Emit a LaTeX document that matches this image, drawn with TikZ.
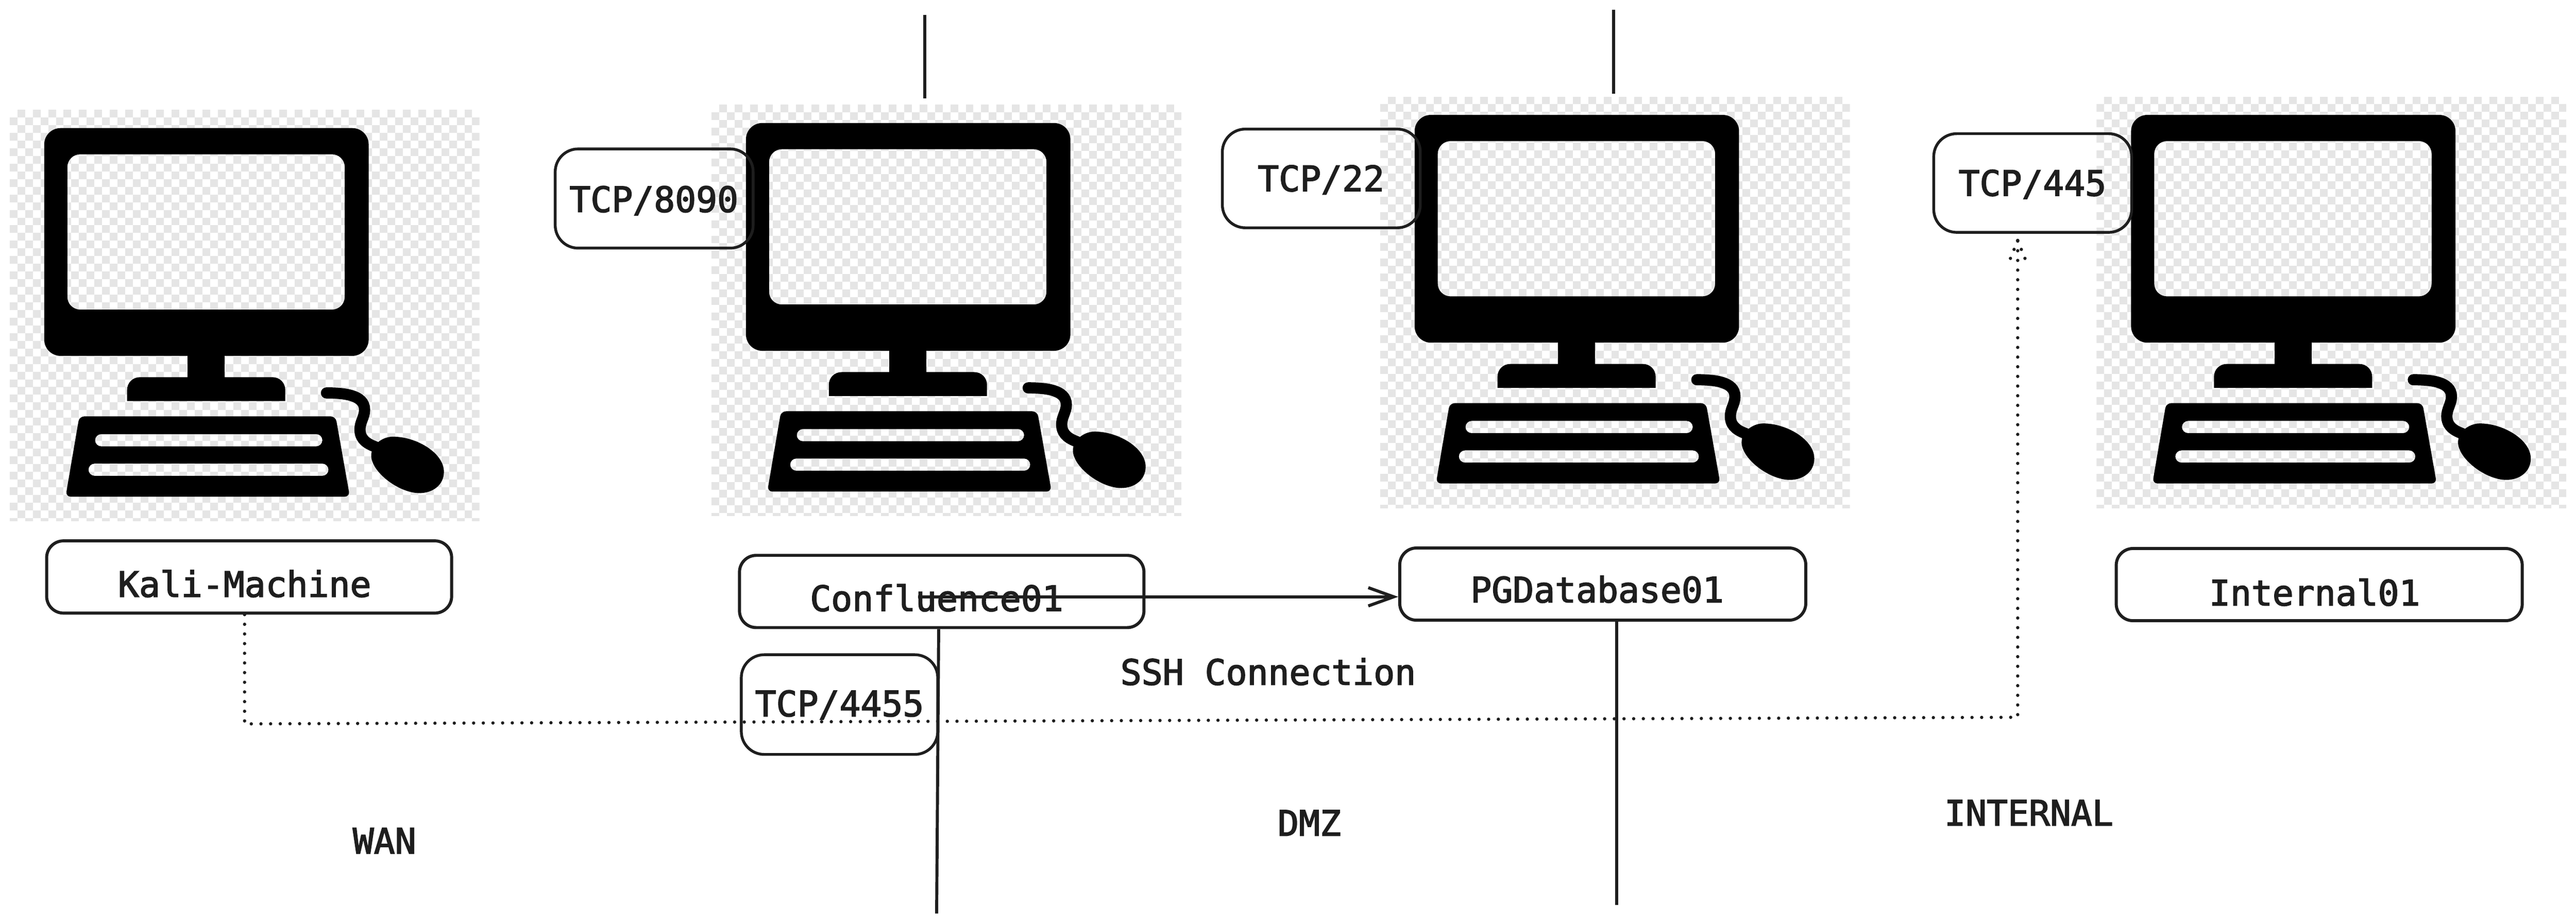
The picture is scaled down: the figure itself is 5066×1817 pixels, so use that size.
\documentclass[tikz,border=0pt]{standalone}
\usepackage{fontspec}
\newfontfamily\codefont[FakeBold=2.5]{DejaVu Sans Mono}
\usetikzlibrary{arrows.meta}
\definecolor{ink}{HTML}{1E1E1E}
\definecolor{chk}{HTML}{E5E5E5}
\tikzset{
  x=0.01cm,y=-0.01cm,
  box/.style={draw=ink,line width=0.06cm,inner sep=0pt,rounded corners=0.33cm},
  portbox/.style={box,line width=0.055cm,rounded corners=0.45cm},
  txt/.style={text=ink,inner sep=0pt,anchor=base,font=\codefont\fontsize{19.6}{24}\selectfont},
  wire/.style={draw=ink,line width=0.06cm},
  dots/.style={draw=ink,line width=0.065cm,line cap=round,dash pattern=on 0pt off 0.19cm},
  pics/computer/.style={code={
    \begin{scope}
      \clip (0,0) rectangle (924,809);
      \foreach \r in {0,2,...,52}
        \draw[chk,line width=0.1515cm,dash pattern=on 0.1515cm off 0.1515cm,dash phase=0.1515cm]
          (0,{(\r+.5)*15.15}) -- (924,{(\r+.5)*15.15});
      \foreach \r in {1,3,...,53}
        \draw[chk,line width=0.1515cm,dash pattern=on 0.1515cm off 0.1515cm]
          (0,{(\r+.5)*15.15}) -- (924,{(\r+.5)*15.15});
    \end{scope}
    \fill[black,even odd rule,rounded corners=0.32cm] (68,36) rectangle (706,484)
       [rounded corners=0.25cm] (113.5,87.5) rectangle (659,393);
    \fill[black] (350,480) rectangle (423,530);
    \fill[black] (231,573) -- (231,551) .. controls (231,537) and (242,526) .. (256,526)
       -- (517,526) .. controls (531,526) and (542,537) .. (542,551) -- (542,573) -- cycle;
    \fill[black,even odd rule,rounded corners=0.1cm] (137,603) -- (641,603) -- (669,761) -- (110,761) -- cycle
       [rounded corners=0.12cm] (168,638) rectangle (615,662) (155,696) rectangle (627,720);
    \draw[black,line width=0.22cm,line cap=round] (623,557)
        .. controls (655,557) and (698,560) .. (698,590)
        .. controls (698,605) and (688,615) .. (689,631)
        .. controls (690,650) and (705,658) .. (722,664);
    \fill[black] (711,680) .. controls (711,660) and (732,643) .. (754,643)
        .. controls (800,643) and (854,675) .. (854,712)
        .. controls (854,738) and (832,754) .. (806,754)
        .. controls (765,754) and (711,712) .. (711,680) -- cycle;
  }}
}
\begin{document}
\begin{tikzpicture}
\useasboundingbox (0,0) rectangle (5066,1817);
\fill[white] (0,0) rectangle (5066,1817);
% computers
\pic at (19,216) {computer};
\pic at (1399,206) {computer};
\pic at (2714,190) {computer};
\pic at (4123,190) {computer};
% boxes
\node[box,minimum width=7.96cm,minimum height=1.42cm] (kali) at (490,1135) {};
\node[box,minimum width=7.95cm,minimum height=1.42cm] (conf) at (1852,1163.5) {};
\node[box,minimum width=7.98cm,minimum height=1.42cm] (pg) at (3152,1149) {};
\node[box,minimum width=7.98cm,minimum height=1.42cm] (int) at (4561,1150) {};
\node[portbox,minimum width=3.89cm,minimum height=1.95cm] (p8090) at (1286.5,390.5) {};
\node[portbox,minimum width=3.89cm,minimum height=1.94cm] (p22) at (2598.5,351) {};
\node[portbox,minimum width=3.89cm,minimum height=1.94cm] (p445) at (3997.5,360) {};
\node[portbox,minimum width=3.86cm,minimum height=1.96cm] (p4455) at (1651,1386) {};
% labels
\node[txt] (tkali) at (481,1174) {Kali-Machine};
\node[txt] (tconf) at (1842,1202) {Confluence01};
\node[txt] (tpg) at (3141,1185) {PGDatabase01};
\node[txt] (tint) at (4552,1191) {Internal01};
\node[txt] (t8090) at (1286,417) {TCP/8090};
\node[txt] (t22) at (2598,376) {TCP/22};
\node[txt] (t445) at (3997,385) {TCP/445};
\node[txt] (t4455) at (1651,1409) {TCP/4455};
\node[txt] (tssh) at (2494,1347) {SSH Connection};
\node[txt] (twan) at (756,1679) {WAN};
\node[txt] (tdmz) at (2575,1644) {DMZ};
\node[txt] (tintz) at (3990,1624) {INTERNAL};
% free ends
\coordinate (top1) at (1819,29);
\coordinate (top1b) at (1819,194);
\coordinate (top2) at (3173,19);
\coordinate (top2b) at (3173,184);
\coordinate (bot1) at (1842,1797);
\coordinate (bot2) at (3179,1780);
\coordinate (sshstart) at (1805,1174);
\coordinate (b1) at (481,1424);
\coordinate (b2) at (3968,1411);
\coordinate (tip) at (3968,473);
\coordinate (barbL) at (3951,515);
\coordinate (barbR) at (3985,515);
% connectors
\draw[wire] (top1) -- (top1b);
\draw[wire] (top2) -- (top2b);
\draw[wire] (conf.south -| 1846,0) -- (bot1);
\draw[wire] (pg.south -| 3179,0) -- (bot2);
\draw[wire,-{Straight Barb[length=0.5cm,width=0.36cm,line width=0.06cm]}] (sshstart) -- (pg.west |- sshstart);
\draw[dots] (kali.south -| b1) -- (b1) -- (b2) -- (tip);
\draw[dots] (tip) -- (barbL);
\draw[dots] (tip) -- (barbR);
\end{tikzpicture}
\end{document}
